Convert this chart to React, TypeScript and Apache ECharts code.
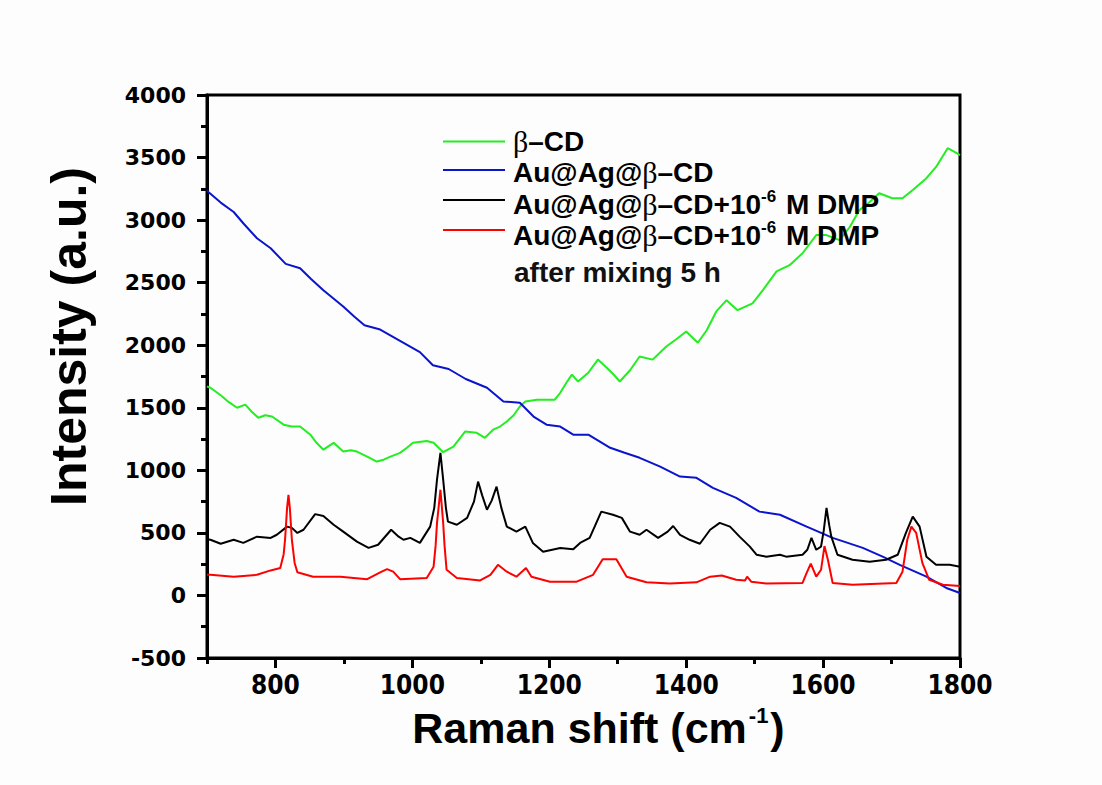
import React, { useEffect, useRef } from "react";
import * as echarts from "echarts";

const seriesNames = [
  "β–CD",
  "Au@Ag@β–CD",
  "Au@Ag@β–CD+10-6 M DMP",
  "Au@Ag@β–CD+10-6 M DMP after mixing 5 h",
];
const seriesColors = ["#22ee22", "#0a14cc", "#000000", "#ff0000"];

const betaCD: number[][] = [
  [700, 1670], [705, 1660], [720, 1600], [732, 1545], [744, 1500], [756, 1525], [765, 1470], [775, 1420], [785, 1440], [795, 1430],
  [812, 1365], [824, 1350], [836, 1350], [851, 1285], [860, 1220], [870, 1165], [885, 1220], [899, 1150], [910, 1160], [919, 1150], [934, 1110],
  [948, 1070], [958, 1085], [968, 1110], [982, 1140], [992, 1180], [1001, 1220], [1021, 1235], [1031, 1220], [1045, 1145], [1060, 1190],
  [1077, 1310], [1094, 1300], [1106, 1260], [1118, 1325], [1128, 1350], [1138, 1390], [1148, 1440], [1157, 1510], [1165, 1550], [1182, 1565],
  [1208, 1565], [1216, 1620], [1225, 1700], [1233, 1765], [1242, 1710], [1257, 1780], [1271, 1885], [1284, 1820], [1295, 1760], [1303, 1710],
  [1318, 1800], [1332, 1910], [1351, 1885], [1371, 1990], [1386, 2050], [1400, 2110], [1417, 2020], [1430, 2120], [1444, 2270], [1459, 2360],
  [1475, 2280], [1497, 2335], [1512, 2440], [1532, 2590], [1551, 2640], [1570, 2735], [1590, 2880], [1605, 2880],
  [1624, 2840], [1639, 2945], [1653, 3080], [1668, 3145], [1682, 3215], [1701, 3175], [1716, 3175], [1731, 3240],
  [1751, 3335], [1765, 3425], [1782, 3575], [1792, 3545], [1800, 3520],
];

const auAgCD: number[][] = [
  [700, 3240], [702, 3225], [720, 3140], [739, 3065], [753, 2975], [773, 2855], [793, 2775], [815, 2650], [836, 2615],
  [852, 2530], [870, 2440], [899, 2310], [915, 2230], [930, 2160], [953, 2125], [982, 2035], [1011, 1945], [1030, 1840], [1053, 1810],
  [1078, 1730], [1109, 1660], [1133, 1550], [1157, 1540], [1177, 1430], [1196, 1365], [1216, 1350], [1235, 1285],
  [1257, 1285], [1289, 1180], [1310, 1140], [1332, 1100], [1362, 1030], [1391, 950], [1415, 940], [1439, 860], [1473, 780],
  [1507, 670], [1537, 645], [1576, 550], [1614, 460], [1658, 380], [1687, 310], [1712, 245], [1751, 150],
  [1780, 60], [1800, 20],
];

const auAgCDDMP: number[][] = [
  [700, 450], [705, 445], [720, 413], [739, 445], [753, 420], [773, 470], [793, 460], [802, 485],
  [817, 550], [824, 540], [832, 500], [841, 525], [858, 650], [870, 635], [885, 565], [899, 510],
  [919, 430], [936, 380], [950, 405], [969, 525], [980, 470], [987, 445], [997, 460], [1011, 420],
  [1026, 550], [1032, 700], [1036, 925], [1041, 1140], [1045, 925], [1049, 700], [1052, 590], [1065, 565],
  [1080, 620], [1090, 750], [1096, 910], [1102, 800], [1109, 685], [1116, 760], [1123, 870], [1130, 700],
  [1138, 550], [1152, 510], [1165, 550], [1176, 420], [1191, 350], [1216, 380], [1235, 370], [1245, 420],
  [1259, 460], [1276, 670], [1293, 645], [1306, 620], [1318, 510], [1332, 485], [1342, 525], [1359, 460],
  [1373, 510], [1381, 555], [1391, 485], [1405, 445], [1420, 413], [1435, 525], [1449, 580], [1464, 550],
  [1478, 470], [1493, 390], [1503, 325], [1517, 310], [1537, 325], [1546, 310], [1570, 325], [1577, 365],
  [1583, 460], [1590, 365], [1597, 390], [1601, 520], [1605, 700], [1609, 560], [1612, 470], [1621, 325],
  [1643, 285], [1668, 270], [1692, 285], [1709, 325], [1721, 500], [1731, 630], [1741, 550], [1751, 310],
  [1765, 245], [1785, 245], [1800, 230],
];

const auAgCDDMP5h: number[][] = [
  [700, 165], [705, 165], [739, 150], [773, 165], [793, 200], [807, 220], [812, 330], [814, 445],
  [817, 700], [819, 805], [821, 700], [824, 445], [828, 260], [832, 185], [855, 150], [895, 150],
  [934, 130], [953, 185], [963, 210], [972, 190], [982, 130], [1021, 140], [1031, 230], [1034, 400],
  [1036, 580], [1041, 845], [1045, 580], [1047, 400], [1050, 205], [1065, 140], [1099, 120], [1114, 165],
  [1125, 245], [1138, 190], [1152, 150], [1166, 220], [1174, 150], [1201, 110], [1240, 110], [1264, 165],
  [1278, 290], [1298, 290], [1313, 150], [1342, 105], [1376, 95], [1415, 105], [1435, 150], [1452, 160],
  [1473, 125], [1486, 120], [1489, 150], [1495, 110], [1517, 95], [1570, 100], [1576, 180], [1582, 255],
  [1590, 150], [1597, 205], [1602, 395], [1607, 285], [1614, 100], [1643, 85], [1707, 100], [1716, 190],
  [1723, 445], [1729, 550], [1736, 500], [1745, 260], [1755, 125], [1775, 85], [1800, 75],
];

const allData = [betaCD, auAgCD, auAgCDDMP, auAgCDDMP5h];

const SANS = "'Liberation Sans', Arial, sans-serif";
const SERIF = "'Liberation Serif', 'Times New Roman', serif";

const X_MIN = 700;
const X_MAX = 1800;
const X_LABEL_START = 800;

export default function App() {
  const ref = useRef<HTMLDivElement>(null);
  useEffect(() => {
    document.body.style.margin = "0";
    if (!ref.current) return;
    const chart = echarts.init(ref.current, undefined, { renderer: "svg" });

    const legendRich = {
      t: { fontFamily: SANS, fontWeight: "bold", fontSize: 28, color: "#111", lineHeight: 32 },
      g: { fontFamily: SERIF, fontWeight: "normal", fontSize: 30, color: "#111", lineHeight: 32 },
      s: { fontFamily: SANS, fontWeight: "bold", fontSize: 17, color: "#111", lineHeight: 32, verticalAlign: "top", padding: [0, 2, 14, 0] },
    };
    const legendTexts = [
      "{g|β}{t|–CD}",
      "{t|Au@Ag@}{g|β}{t|–CD}",
      "{t|Au@Ag@}{g|β}{t|–CD+10}{s|-6}{t| M DMP}",
      "{t|Au@Ag@}{g|β}{t|–CD+10}{s|-6}{t| M DMP}",
    ];
    const lineYs = [141.5, 170, 200, 230];
    const textYs = [141, 172, 204, 235];

    const graphics: any[] = [];
    legendTexts.forEach((txt, i) => {
      graphics.push({
        type: "line",
        shape: { x1: 443, y1: lineYs[i], x2: 505, y2: lineYs[i] },
        style: { stroke: seriesColors[i], lineWidth: 2 },
        z: 100,
      });
      graphics.push({
        type: "text",
        x: 513,
        y: textYs[i],
        style: { text: txt, rich: legendRich, verticalAlign: "middle", align: "left" },
        z: 100,
      });
    });
    graphics.push({
      type: "text",
      x: 514,
      y: 272,
      style: { text: "after mixing 5 h", fontFamily: SANS, fontWeight: "bold", fontSize: 28, fill: "#111", verticalAlign: "middle" },
      z: 100,
    });

    const plain = (v: number) => String(v);
    const left = 207, right = 142, top = 95, bottom = 127;
    const plotW = 1102 - left - right;
    const left2 = left + (plotW * (X_LABEL_START - X_MIN)) / (X_MAX - X_MIN);

    chart.setOption({
      animation: false,
      backgroundColor: "#fdfdfd",
      grid: [
        { left, right, top, bottom, show: true, borderColor: "#000", borderWidth: 3 },
        { left: left2, right, top, bottom, show: false },
      ],
      xAxis: [
        {
          type: "value",
          gridIndex: 0,
          min: X_MIN,
          max: X_MAX,
          interval: 100,
          name: "{b|Raman shift (cm}{s|-1}{b|)}",
          nameLocation: "middle",
          nameGap: 46,
          nameTextStyle: {
            padding: [0, 0, 0, 30],
            rich: {
              b: { fontFamily: SANS, fontWeight: "bold", fontSize: 43, color: "#000", lineHeight: 48 },
              s: { fontFamily: SANS, fontWeight: "bold", fontSize: 22, color: "#000", lineHeight: 48, verticalAlign: "top", padding: [0, 2, 22, 2] },
            },
          },
          axisLine: { show: true, onZero: false, lineStyle: { color: "#000", width: 3 } },
          axisTick: { show: true, inside: false, length: 6, lineStyle: { color: "#000", width: 3 } },
          axisLabel: { show: true, formatter: () => "", margin: 14, fontSize: 26 },
          splitLine: { show: false },
        },
        {
          type: "value",
          gridIndex: 1,
          min: X_LABEL_START,
          max: X_MAX,
          interval: 200,
          axisLine: { show: true, onZero: false, lineStyle: { color: "#000", width: 3 } },
          axisTick: { show: true, inside: false, length: 10, lineStyle: { color: "#000", width: 3 } },
          axisLabel: {
            formatter: plain,
            margin: 14,
            fontFamily: "'Liberation Sans Narrow', 'DejaVu Sans Condensed', sans-serif",
            fontWeight: "bold",
            fontSize: 26,
            color: "#000",
          },
          splitLine: { show: false },
        },
      ],
      yAxis: [
        {
          type: "value",
          gridIndex: 0,
          min: -500,
          max: 4000,
          interval: 500,
          name: "Intensity (a.u.)",
          nameLocation: "middle",
          nameGap: 113,
          nameTextStyle: { fontFamily: SANS, fontWeight: "bold", fontSize: 50, color: "#000", padding: [0, 0, 0, 80] },
          axisLine: { show: true, onZero: false, lineStyle: { color: "#000", width: 3 } },
          axisTick: { show: true, length: 10, lineStyle: { color: "#000", width: 3 } },
          minorTick: { show: true, splitNumber: 2, length: 6, lineStyle: { color: "#000", width: 3 } },
          axisLabel: { formatter: plain, margin: 21, fontFamily: "'DejaVu Sans', sans-serif", fontWeight: "bold", fontSize: 22, color: "#000" },
          splitLine: { show: false },
        },
        {
          type: "value",
          gridIndex: 1,
          min: -500,
          max: 4000,
          show: false,
          splitLine: { show: false },
        },
      ],
      series: allData.map((d, i) => ({
        type: "line",
        name: seriesNames[i],
        xAxisIndex: 0,
        yAxisIndex: 0,
        data: d,
        showSymbol: false,
        symbol: "none",
        lineStyle: { color: seriesColors[i], width: 2 },
        itemStyle: { color: seriesColors[i] },
        z: 2 + i,
      })),
      graphic: graphics,
    });
    return () => chart.dispose();
  }, []);
  return <div ref={ref} style={{ width: 1102, height: 785 }} />;
}
